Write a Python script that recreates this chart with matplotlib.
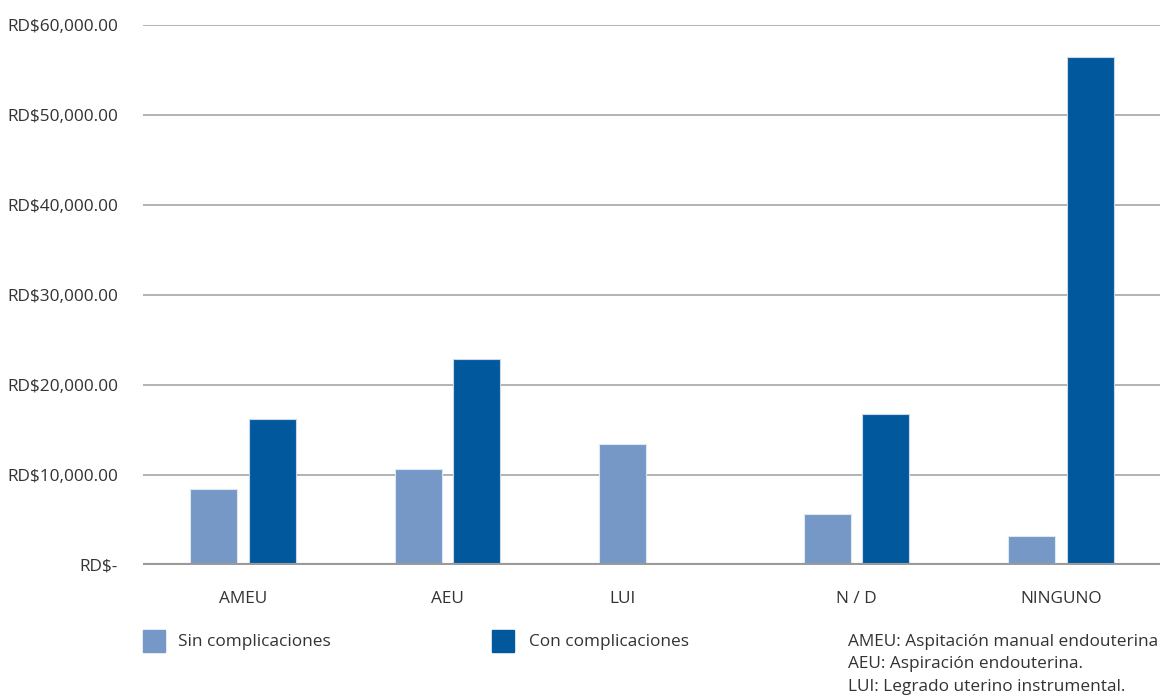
import matplotlib.pyplot as plt
import matplotlib.patches as mpatches
import numpy as np

plt.rcParams["font.family"] = ["Open Sans", "DejaVu Sans"]

categories = ["AMEU", "AEU", "LUI", "N / D", "NINGUNO"]
sin_complicaciones = [8450, 10650, 13450, 5650, 3200]
con_complicaciones = [16250, 22900, None, 16800, 56400]
y_ticks = [0, 10000, 20000, 30000, 40000, 50000, 60000]
notes = [
    "AMEU: Aspitación manual endouterina",
    "AEU: Aspiración endouterina.",
    "LUI: Legrado uterino instrumental.",
]

LIGHT = "#7598c6"
DARK = "#02589c"
TEXT = "#333333"
FS = 12.4
W, H = 1160, 700


def money(v):
    return "RD$-" if v == 0 else f"RD${v:,.2f}"


fig = plt.figure(figsize=(W / 100, H / 100), dpi=100)
ax = fig.add_axes([143 / W, 1 - 565 / H, 1 - 143 / W, (565 - 25) / H])

x = np.arange(len(categories))
width = 0.23
off = 0.143

ax.bar(x - off, sin_complicaciones, width, color=LIGHT, edgecolor="#dfe7f2",
       linewidth=0.8, zorder=3)
con_x = [xi + off for xi, v in zip(x, con_complicaciones) if v is not None]
con_v = [v for v in con_complicaciones if v is not None]
ax.bar(con_x, con_v, width, color=DARK, edgecolor="#c9d8ea", linewidth=0.8, zorder=3)

# ticks sit under whatever bars a category actually has
tick_pos = [xi if v is not None else xi - off for xi, v in zip(x, con_complicaciones)]
ax.set_xticks(tick_pos)
ax.set_xticklabels(categories, fontsize=FS, color=TEXT)
ax.tick_params(axis="x", length=0, pad=19)

ax.set_yticks(y_ticks)
ax.set_yticklabels([money(v) for v in y_ticks], fontsize=FS, color=TEXT)
ax.tick_params(axis="y", length=0, pad=18)

ax.set_xlim(-0.49, 4.485)
ax.set_ylim(0, 60000)
ax.yaxis.grid(True, color="#a6a6a6", linewidth=1.2, zorder=0)
ax.axhline(0, color="#9a9a9a", linewidth=3, zorder=4)
for s in ax.spines.values():
    s.set_visible(False)

# legend drawn by hand below the plot
for (sx, tx, color, label) in [(143, 178, LIGHT, "Sin complicaciones"),
                               (492, 529, DARK, "Con complicaciones")]:
    fig.patches.append(mpatches.Rectangle((sx / W, 1 - 652 / H), 22 / W, 22 / H,
                                          transform=fig.transFigure, color=color))
    fig.text(tx / W, 1 - 642 / H, label, fontsize=FS, color=TEXT, va="center")

for i, line in enumerate(notes):
    fig.text(848 / W, 1 - (642 + 22.5 * i) / H, line, fontsize=FS, color=TEXT, va="center")

fig.savefig("out.png", dpi=100, facecolor="white")
